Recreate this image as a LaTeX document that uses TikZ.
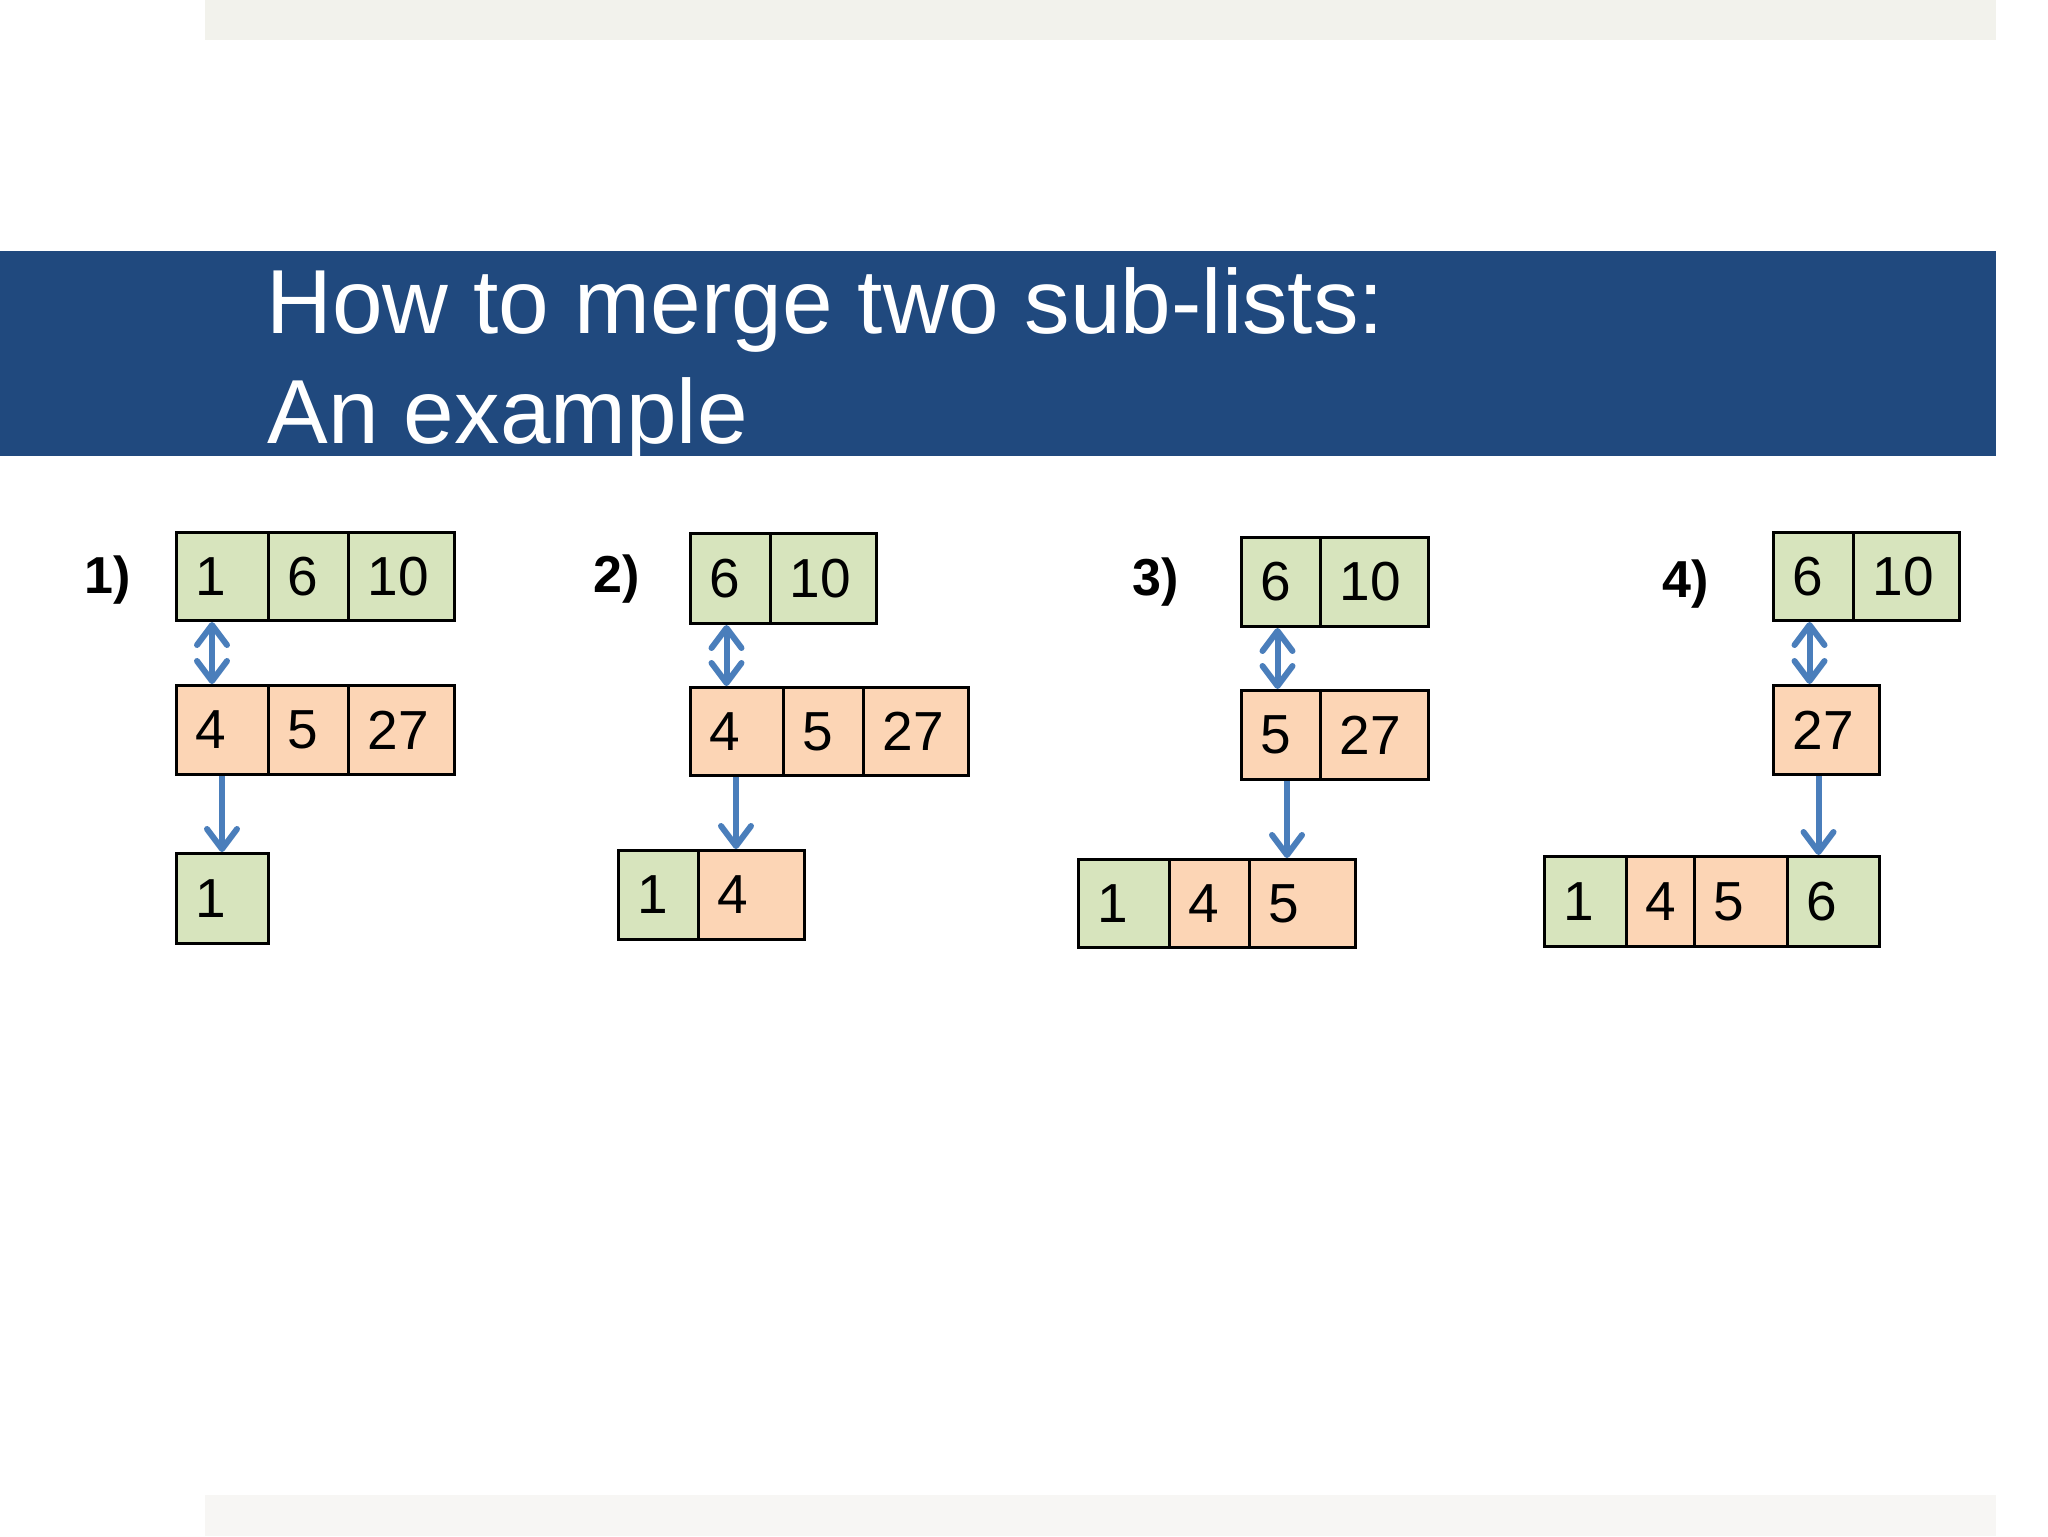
\documentclass[tikz,border=0pt]{standalone}
\usepackage{fontspec}
\setmainfont{Liberation Sans}
\usetikzlibrary{arrows.meta,calc}
\definecolor{cellgreen}{RGB}{215,228,189}
\definecolor{cellorange}{RGB}{252,213,181}
\definecolor{arrowblue}{RGB}{74,126,187}
\definecolor{bandblue}{RGB}{32,73,126}
\definecolor{topgrey}{RGB}{242,242,236}
\definecolor{botgrey}{RGB}{247,246,244}
\tikzset{
  cellsty/.style={draw=black, line width=1.5pt, anchor=north west, inner xsep=9.5pt, inner ysep=0pt,
    align=left, font=\fontsize{27.5}{27.5}\selectfont},
  steplabel/.style={anchor=base west, inner sep=0pt, font=\bfseries\fontsize{26}{26}\selectfont},
  titletext/.style={anchor=base west, inner sep=0pt, text=white, font=\fontsize{45.5}{54}\selectfont},
  barb/.tip={Straight Barb[length=10pt,width=15pt,line cap=round,line join=round]},
  pointer/.style={draw=arrowblue, line width=3pt, -barb},
  swap/.style={draw=arrowblue, line width=3pt, barb-barb}
}
\newcommand\mycell[7]{%
  \pgfmathsetmacro\mytw{#4/2-19}%
  \node[cellsty, fill=#6, minimum width=#4*0.5pt, minimum height=#5*0.5pt, text width=\mytw pt] (#1) at (#2,#3) {#7};}
\begin{document}
\begin{tikzpicture}[x=0.5pt,y=-0.5pt]
\useasboundingbox (0,0) rectangle (2048,1536);
\fill[white] (0,0) rectangle (2048,1536);
% slide decorations
\fill[topgrey] (205,0) rectangle (1996,40);
\fill[botgrey] (205,1495) rectangle (1996,1536);
\fill[bandblue] (0,251) rectangle (1996,456);
\node[titletext] (title1) at (266,333) {How to merge two sub-lists:};
\node[titletext] (title2) at (267,443) {An example};
% step labels
\node[steplabel] (lab1) at (84,593) {1)};
\node[steplabel] (lab2) at (593,592) {2)};
\node[steplabel] (lab3) at (1132,595) {3)};
\node[steplabel] (lab4) at (1662,597) {4)};
% panel 1
\mycell{p1t1}{175}{531}{92}{88}{cellgreen}{1}
\mycell{p1t2}{267}{531}{80}{88}{cellgreen}{6}
\mycell{p1t3}{347}{531}{106}{88}{cellgreen}{10}
\mycell{p1m1}{175}{684}{92}{89}{cellorange}{4}
\mycell{p1m2}{267}{684}{80}{89}{cellorange}{5}
\mycell{p1m3}{347}{684}{106}{89}{cellorange}{27}
\mycell{p1b1}{175}{852}{92}{90}{cellgreen}{1}
\draw[swap] ($(p1t1.south west)+(37,0)$) -- ($(p1m1.north west)+(37,0)$);
\draw[pointer] ($(p1m1.south west)+(47,0)$) -- ($(p1b1.north west)+(47,0)$);
% panel 2
\mycell{p2t1}{689}{532}{80}{90}{cellgreen}{6}
\mycell{p2t2}{769}{532}{106}{90}{cellgreen}{10}
\mycell{p2m1}{689}{686}{93}{88}{cellorange}{4}
\mycell{p2m2}{782}{686}{80}{88}{cellorange}{5}
\mycell{p2m3}{862}{686}{105}{88}{cellorange}{27}
\mycell{p2b1}{617}{849}{80}{89}{cellgreen}{1}
\mycell{p2b2}{697}{849}{106}{89}{cellorange}{4}
\draw[swap] ($(p2t1.south west)+(37.5,0)$) -- ($(p2m1.north west)+(37.5,0)$);
\draw[pointer] ($(p2m1.south west)+(47,0)$) -- ($(p2b2.north west)+(39,0)$);
% panel 3
\mycell{p3t1}{1240}{536}{79}{89}{cellgreen}{6}
\mycell{p3t2}{1319}{536}{108}{89}{cellgreen}{10}
\mycell{p3m1}{1240}{689}{79}{89}{cellorange}{5}
\mycell{p3m2}{1319}{689}{108}{89}{cellorange}{27}
\mycell{p3b1}{1077}{858}{91}{88}{cellgreen}{1}
\mycell{p3b2}{1168}{858}{80}{88}{cellorange}{4}
\mycell{p3b3}{1248}{858}{106}{88}{cellorange}{5}
\draw[swap] ($(p3t1.south west)+(37.5,0)$) -- ($(p3m1.north west)+(37.5,0)$);
\draw[pointer] ($(p3m1.south west)+(47,0)$) -- ($(p3b3.north west)+(39,0)$);
% panel 4
\mycell{p4t1}{1772}{531}{80}{88}{cellgreen}{6}
\mycell{p4t2}{1852}{531}{106}{88}{cellgreen}{10}
\mycell{p4m1}{1772}{684}{106}{89}{cellorange}{27}
\mycell{p4b1}{1543}{855}{82}{90}{cellgreen}{1}
\mycell{p4b2}{1625}{855}{68}{90}{cellorange}{4}
\mycell{p4b3}{1693}{855}{93}{90}{cellorange}{5}
\mycell{p4b4}{1786}{855}{92}{90}{cellgreen}{6}
\draw[swap] ($(p4t1.south west)+(37.5,0)$) -- ($(p4m1.north west)+(37.5,0)$);
\draw[pointer] ($(p4m1.south west)+(46.5,0)$) -- ($(p4b4.north west)+(32.5,0)$);
\end{tikzpicture}
\end{document}
